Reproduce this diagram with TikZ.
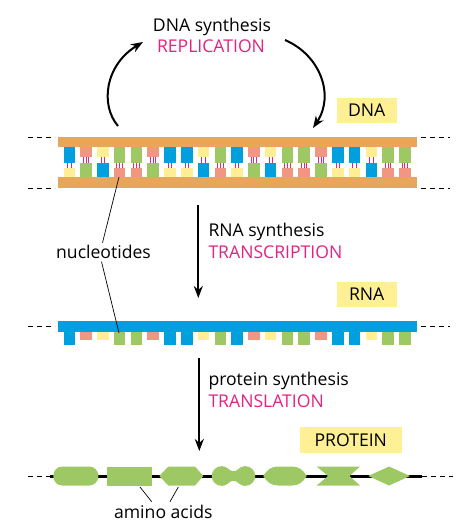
\documentclass[tikz,border=0pt]{standalone}
\usepackage{fontspec}
\setmainfont{Open Sans}
\usetikzlibrary{arrows.meta}
\definecolor{dnaorange}{RGB}{232,166,90}
\definecolor{baseblue}{RGB}{0,159,222}
\definecolor{basegreen}{RGB}{158,200,100}
\definecolor{basesalmon}{RGB}{240,150,130}
\definecolor{baseyellow}{RGB}{255,238,150}
\definecolor{labelyellow}{RGB}{255,240,150}
\definecolor{procmagenta}{RGB}{226,35,130}
\definecolor{bondpink}{RGB}{220,40,140}
\begin{document}
\begin{tikzpicture}[x=1pt,y=-1pt,
  txt/.style={font=\fontsize{17.6}{20}\selectfont, inner sep=0pt, anchor=base},
  proc/.style={txt, text=procmagenta},
  lbl/.style={fill=labelyellow, inner sep=0pt, font=\fontsize{17.6}{20}\selectfont,
     text height=12.4pt, text depth=0pt, minimum height=25pt},
  flow/.style={line width=2pt, -{Stealth[length=12pt,width=9pt]}},
  pointer/.style={line width=0.7pt},
  endash/.style={line width=1pt, dash pattern=on 5pt off 4pt},
  aa/.style={fill=basegreen}
]
\useasboundingbox (0,0) rectangle (468,531);

% ---------- texts ----------
\node[txt] (dnasyn) at (212,31.7) {DNA synthesis};
\node[proc] (repl) at (211,52.7) {REPLICATION};
\node[txt,anchor=base west] (rnasyn) at (208.3,236.7) {RNA synthesis};
\node[proc,anchor=base west] (transc) at (208.3,258.3) {TRANSCRIPTION};
\node[txt,anchor=base west] (protsyn) at (208.3,385) {protein synthesis};
\node[proc,anchor=base west] (transl) at (208.3,407.7) {TRANSLATION};
\node[txt] (nucl) at (103.5,258.3) {nucleotides};
\node[txt] (amino) at (163.3,518.3) {amino acids};

\node[lbl,minimum width=60pt] (dnalbl) at (366.7,110.5) {DNA};
\node[lbl,minimum width=60pt] (rnalbl) at (366.7,294.5) {RNA};
\node[lbl,minimum width=102pt,minimum height=26pt] (protlbl) at (350.8,440) {PROTEIN};

% ---------- DNA ----------
\fill[dnaorange] (58,137) rectangle (416.5,147.3);
\fill[dnaorange] (58,177.3) rectangle (416.5,188.3);
\foreach \i/\tc/\bc/\ty/\nb in {
  0/baseblue/baseyellow/162.5/2, 1/basesalmon/basegreen/157.3/3,
  2/baseyellow/baseblue/157.3/2, 3/basegreen/basesalmon/162.5/3,
  4/basegreen/basesalmon/162.5/3, 5/basesalmon/basegreen/157.3/3,
  6/baseblue/baseyellow/162.5/2, 7/baseblue/baseyellow/162.5/2,
  8/baseyellow/baseblue/157.3/2, 9/basegreen/basesalmon/162.5/3,
  10/baseblue/baseyellow/162.5/2, 11/basesalmon/basegreen/157.3/3,
  12/baseyellow/baseblue/157.3/2, 13/basegreen/basesalmon/162.5/3,
  14/basegreen/basesalmon/162.5/3, 15/basesalmon/basegreen/157.3/3,
  16/baseblue/baseyellow/162.5/2, 17/baseblue/baseyellow/162.5/2,
  18/baseyellow/baseblue/157.3/2, 19/basegreen/basesalmon/162.5/3,
  20/basegreen/basesalmon/162.5/3}{
  \pgfmathsetmacro\xx{69.3+16.78*\i}
  \pgfmathsetmacro\by{\ty+5.3}
  \fill[\tc] (\xx-5.75,147.3) rectangle (\xx+5.75,\ty);
  \fill[\bc] (\xx-5.75,\by) rectangle (\xx+5.75,177.3);
  \ifnum\nb=2
    \draw[bondpink,line width=0.9pt] (\xx-1.7,\ty) -- (\xx-1.7,\by) (\xx+1.7,\ty) -- (\xx+1.7,\by);
  \else
    \draw[bondpink,line width=0.9pt] (\xx-2.7,\ty) -- (\xx-2.7,\by) (\xx,\ty) -- (\xx,\by) (\xx+2.7,\ty) -- (\xx+2.7,\by);
  \fi
}
\coordinate (dl1a) at (28,137.3); \coordinate (dl1b) at (55,137.3);
\coordinate (dl2a) at (28,188.3); \coordinate (dl2b) at (55,188.3);
\coordinate (dr1a) at (421,137.3); \coordinate (dr1b) at (450,137.3);
\coordinate (dr2a) at (421,188.3); \coordinate (dr2b) at (450,188.3);
\draw[endash] (dl1a) -- (dl1b); \draw[endash] (dl2a) -- (dl2b);
\draw[endash] (dr1a) -- (dr1b); \draw[endash] (dr2a) -- (dr2b);

% ---------- RNA ----------
\fill[baseblue] (58,321) rectangle (416.5,331.7);
\foreach \i/\c/\h in {
  0/baseblue/345, 1/basesalmon/340, 2/baseyellow/340, 3/basegreen/345,
  4/basegreen/345, 5/basesalmon/340, 6/baseblue/345, 7/baseblue/345,
  8/baseyellow/340, 9/basegreen/345, 10/baseblue/345, 11/basesalmon/340,
  12/baseyellow/340, 13/basegreen/345, 14/basegreen/345, 15/basesalmon/340,
  16/baseblue/345, 17/baseblue/345, 18/baseyellow/340, 19/basegreen/345,
  20/basegreen/345}{
  \pgfmathsetmacro\xx{69.3+16.78*\i}
  \fill[\c] (\xx-5.75,331.5) rectangle (\xx+5.75,\h);
}
\coordinate (rl1a) at (28,326); \coordinate (rl1b) at (55,326);
\coordinate (rr1a) at (421,326); \coordinate (rr1b) at (450,326);
\draw[endash] (rl1a) -- (rl1b); \draw[endash] (rr1a) -- (rr1b);

% ---------- protein ----------
\coordinate (pl) at (50,476); \coordinate (pr) at (422,476);
\coordinate (pla) at (28,476); \coordinate (pra) at (453,476);
\draw[line width=3pt] (pl) -- (pr);
\draw[endash] (pla) -- (pl); \draw[endash] (pr) -- (pra);
\fill[aa,rounded corners=9pt] (53.3,466.5) rectangle (98.3,485.5);
\fill[aa] (106.7,466.5) rectangle (151.7,485.5);
\fill[aa] (159.3,476) -- (168.3,466.5) -- (195,466.5) -- (203.3,476) -- (195,485.5) -- (168.3,485.5) -- cycle;
\fill[aa] (221.5,476) circle (9.8) (245.5,476) circle (9.8);
\fill[aa] (221.5,466.2) .. controls (228,466.2) and (229,471.3) .. (233.5,471.3)
   .. controls (238,471.3) and (239,466.2) .. (245.5,466.2) -- (245.5,485.8)
   .. controls (239,485.8) and (238,480.7) .. (233.5,480.7)
   .. controls (229,480.7) and (228,485.8) .. (221.5,485.8) -- cycle;
\fill[aa] (263.3,476) .. controls (267,470) and (271,466.5) .. (278,466.5) -- (292,466.5)
   .. controls (299,466.5) and (303,470) .. (306.7,476)
   .. controls (303,482) and (299,485.5) .. (292,485.5) -- (278,485.5)
   .. controls (271,485.5) and (267,482) .. cycle;
\fill[aa] (316.7,466.5) -- (360,466.5) -- (349.5,476) -- (360,485.5) -- (316.7,485.5) -- (328,476) -- cycle;
\fill[aa] (368.3,476) -- (389,466.5) -- (410,476) -- (389,485.5) -- cycle;

% ---------- arrows ----------
\coordinate (l1s) at (118,126); \coordinate (l1e) at (143,42);
\draw[flow] (l1s) .. controls (100,105) and (105,65) .. (l1e);
\coordinate (r1s) at (285,40); \coordinate (r1e) at (313,128);
\draw[flow] (r1s) .. controls (320,55) and (335,95) .. (r1e);
\coordinate (v1s) at (198.3,205); \coordinate (v1e) at (198.3,298);
\draw[flow] (v1s) -- (v1e);
\coordinate (v2s) at (199.3,358); \coordinate (v2e) at (199.3,451);
\draw[flow] (v2s) -- (v2e);

% ---------- pointer lines ----------
\coordinate (nt1) at (119,177); \coordinate (nt2) at (119,333);
\draw[pointer] (nucl.north) ++(-1,-2) coordinate (nucltop) (nucltop) -- (nt1);
\draw[pointer] (nucl.south) ++(-2,3) coordinate (nuclbot) (nuclbot) -- (nt2);
\coordinate (aa1) at (140,487); \coordinate (aa2) at (178.3,487);
\coordinate (am1) at (151.7,501.7); \coordinate (am2) at (170,501.7);
\draw[pointer] (am1) -- (aa1); \draw[pointer] (am2) -- (aa2);
\end{tikzpicture}
\end{document}
